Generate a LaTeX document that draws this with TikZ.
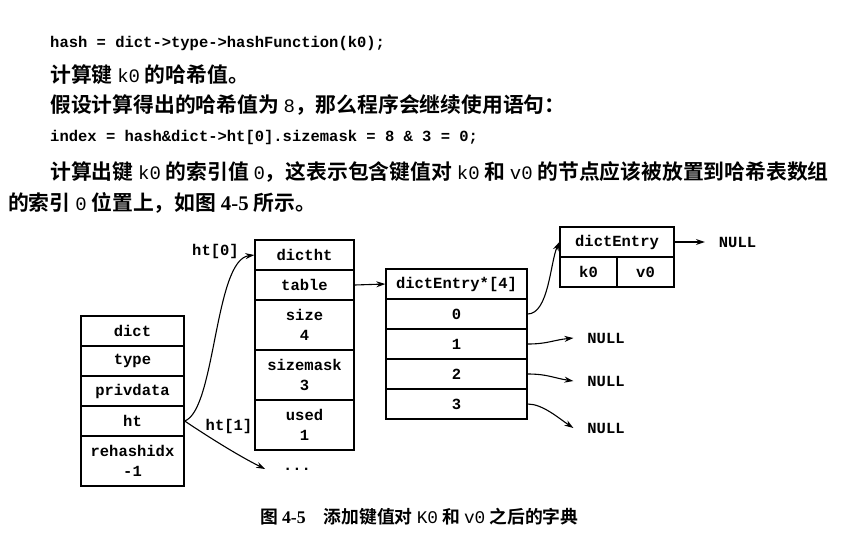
\documentclass[tikz,border=0pt]{standalone}
\usepackage{fontspec}
\setmainfont{Liberation Serif}
\newfontfamily\cjk{Noto Sans CJK SC Bold}
\newfontfamily\mono{Liberation Mono}
\newcommand\kw[1]{{\mono\fontsize{19}{24}\selectfont #1}}
\usetikzlibrary{arrows.meta}

\begin{document}
\begin{tikzpicture}[x=1pt,y=1pt,yscale=-1,xscale=1,
  cell/.style={draw, line width=1.3, inner sep=0pt, minimum height=30, align=center, font=\mono\bfseries\fontsize{15.5}{20}\selectfont},
  tall/.style={minimum height=50},
  dictw/.style={minimum width=103},
  htw/.style={minimum width=99},
  arrw/.style={minimum width=141},
  txt/.style={inner sep=0pt, anchor=west, font=\cjk\fontsize{20.8}{26}\selectfont},
  codeline/.style={inner sep=0pt, anchor=west, font=\mono\bfseries\fontsize{15.5}{20}\selectfont},
  lbl/.style={inner sep=0pt, font=\mono\bfseries\fontsize{15.5}{20}\selectfont},
  nullnode/.style={inner sep=0pt, outer xsep=14, font=\mono\bfseries\fontsize{15.5}{20}\selectfont},
  ptr/.style={-{Stealth[length=9,width=6]}, line width=1.1},
]
  \useasboundingbox (0,0) rectangle (846,542);

  \node[codeline] (code1) at (50,43) {hash = dict->type->hashFunction(k0);};
  \node[txt] (para1) at (50,75) {计算键 \kw{k0} 的哈希值。};
  \node[txt] (para2) at (50,105) {假设计算得出的哈希值为 \kw{8}，那么程序会继续使用语句：};
  \node[codeline] (code2) at (50,137) {index = hash\&dict->ht[0].sizemask = 8 \& 3 = 0;};
  \node[txt] (para3) at (50,172) {计算出键 \kw{k0} 的索引值 \kw{0}，这表示包含键值对 \kw{k0} 和 \kw{v0} 的节点应该被放置到哈希表数组};
  \node[txt] (para4) at (8,203) {的索引 \kw{0} 位置上，如图 {\rmfamily\bfseries 4-5} 所示。};

  % dict
  \node[cell, dictw] (dict) at (132.5,331) {dict};
  \node[cell, dictw] (type) at (132.5,361) {type};
  \node[cell, dictw] (privdata) at (132.5,391) {privdata};
  \node[cell, dictw] (ht) at (132.5,421) {ht};
  \node[cell, dictw, tall] (rehashidx) at (132.5,461) {rehashidx\\-1};

  % dictht
  \node[cell, htw] (dictht) at (304.5,255) {dictht};
  \node[cell, htw] (table) at (304.5,285) {table};
  \node[cell, htw, tall] (size) at (304.5,325) {size\\4};
  \node[cell, htw, tall] (sizemask) at (304.5,375) {sizemask\\3};
  \node[cell, htw, tall] (used) at (304.5,425) {used\\1};

  % table array
  \node[cell, arrw] (arrhd) at (456.5,284) {dictEntry*[4]};
  \node[cell, arrw] (t0) at (456.5,314) {0};
  \node[cell, arrw] (t1) at (456.5,344) {1};
  \node[cell, arrw] (t2) at (456.5,374) {2};
  \node[cell, arrw] (t3) at (456.5,404) {3};

  % entry
  \node[cell, minimum width=114] (entryhd) at (617,242) {dictEntry};
  \node[cell, minimum width=57] (k0) at (588.5,272) {k0};
  \node[cell, minimum width=57] (v0) at (645.5,272) {v0};

  \node[nullnode] (nullE) at (737.5,242) {NULL};
  \node[nullnode] (n1) at (606,338) {NULL};
  \node[nullnode] (n2) at (606,381) {NULL};
  \node[nullnode] (n3) at (606,428) {NULL};
  \node[lbl, outer xsep=18] (dots) at (297,469) {...};

  \node[lbl] (ht0) at (215.5,251) {ht[0]};
  \node[lbl] (ht1) at (229,426) {ht[1]};

  \draw[ptr] (ht.east) .. controls +(31,-11) and +(-40,5) .. (dictht.west);
  \draw[ptr] (ht.east) .. controls +(18,12) and +(-30,-15) .. (dots.west);
  \draw[ptr] (table.east) -- (arrhd.west);
  \draw[ptr] (t0.east) .. controls +(21,0) and +(-9,20) .. (entryhd.west);
  \draw[ptr] (t1.east) .. controls +(20,0) and +(-20,2) .. (n1.west);
  \draw[ptr] (t2.east) .. controls +(20,0) and +(-20,-3) .. (n2.west);
  \draw[ptr] (t3.east) .. controls +(15,0) and +(-15,-10) .. (n3.west);
  \draw[ptr] (entryhd.east) -- (nullE.west);

  \node[inner sep=0pt, anchor=west, font=\cjk\fontsize{17.8}{20}\selectfont] (caption) at (260,517)
    {图 {\rmfamily\bfseries 4-5}\hspace{18pt}添加键值对 {\mono K0} 和 {\mono v0} 之后的字典};
\end{tikzpicture}
\end{document}
